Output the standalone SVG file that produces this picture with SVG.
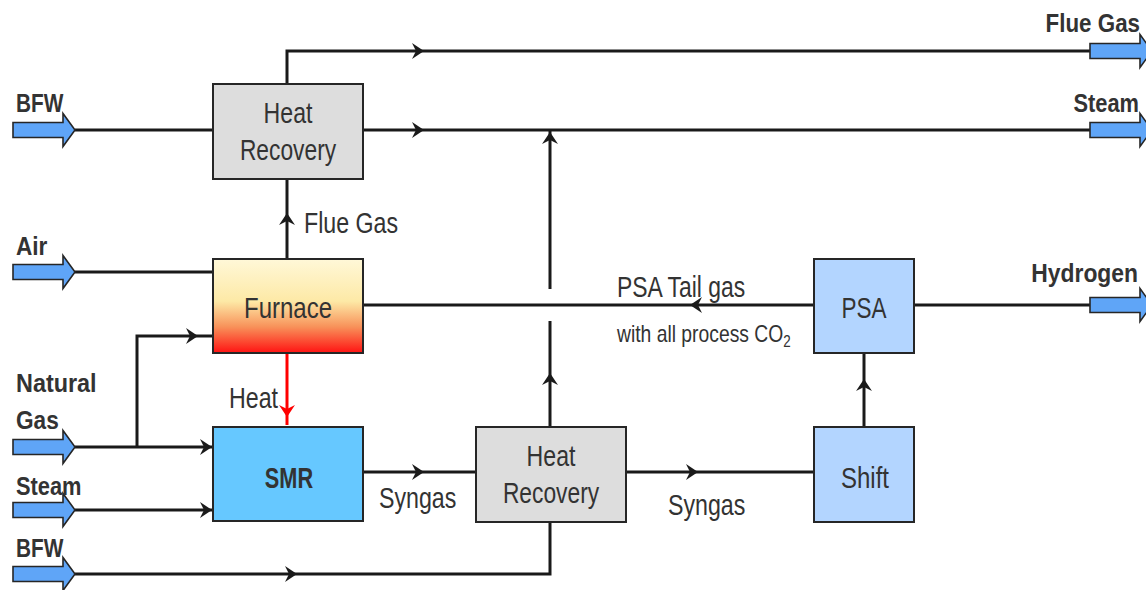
<svg xmlns="http://www.w3.org/2000/svg" xmlns:xlink="http://www.w3.org/1999/xlink" width="1146" height="590" viewBox="0 0 1146 590">
<style>
.ln{fill:none;stroke:#1a1a1a;stroke-width:3;stroke-linejoin:miter}
.box{stroke:#262626;stroke-width:2}
.blk{fill:#5fa5f7;stroke:#262626;stroke-width:1.6}
.lb{font-family:"Liberation Sans",Arial,sans-serif;font-weight:bold;font-size:26px;fill:#333}
.rg{font-family:"Liberation Sans",Arial,sans-serif;font-size:29px;fill:#333}
.sm{font-family:"Liberation Sans",Arial,sans-serif;font-size:23px;fill:#333}
.nd{font-family:"Liberation Sans",Arial,sans-serif;font-size:30px;fill:#333;text-anchor:middle}
.ndb{font-family:"Liberation Sans",Arial,sans-serif;font-size:29px;font-weight:bold;fill:#333;text-anchor:middle}
</style>
<defs>
<path id="ah" d="M0,0 L-12,-8 L-8,0 L-12,8 Z" fill="#1a1a1a"/>
<path id="ahr" d="M0,0 L-12,-8 L-8,0 L-12,8 Z" fill="#ff0000"/>
<path id="bin" d="M0,-7.5 L50,-7.5 L50,-16.5 L62,0 L50,16.5 L50,7.5 L0,7.5 Z"/>
<linearGradient id="fg" x1="0" y1="0" x2="0" y2="1">
<stop offset="0" stop-color="#fff8d8"/>
<stop offset="0.45" stop-color="#fde9a6"/>
<stop offset="0.72" stop-color="#f8925a"/>
<stop offset="1" stop-color="#ff1212"/>
</linearGradient>
</defs>

<g id="connectors">
<path class="ln" d="M287,84 V51 H1092"/>
<path class="ln" d="M75,130 H213"/>
<path class="ln" d="M363,130 H1092"/>
<path class="ln" d="M550,130 V289 M550,321 V427"/>
<path class="ln" d="M287,259 V179"/>
<path class="ln" d="M75,272 H213"/>
<path class="ln" d="M363,305 H814"/>
<path class="ln" d="M914,305 H1092"/>
<path class="ln" d="M75,447 H213 M137,447 V336 H213"/>
<path class="ln" d="M75,510 H213"/>
<path class="ln" d="M75,574 H550 V521"/>
<path class="ln" d="M363,472 H476"/>
<path class="ln" d="M626,472 H814"/>
<path class="ln" d="M864,427 V353"/>
<path d="M287,353 V425" fill="none" stroke="#ff0000" stroke-width="3"/>
<use xlink:href="#ah" transform="translate(424,51)"/>
<use xlink:href="#ah" transform="translate(424,130)"/>
<use xlink:href="#ah" transform="translate(550,132) rotate(-90)"/>
<use xlink:href="#ah" transform="translate(550,373) rotate(-90)"/>
<use xlink:href="#ah" transform="translate(287,213) rotate(-90)"/>
<use xlink:href="#ah" transform="translate(690,305) rotate(180)"/>
<use xlink:href="#ah" transform="translate(198,336)"/>
<use xlink:href="#ah" transform="translate(212,447)"/>
<use xlink:href="#ah" transform="translate(212,510)"/>
<use xlink:href="#ah" transform="translate(297,574)"/>
<use xlink:href="#ah" transform="translate(424,472)"/>
<use xlink:href="#ah" transform="translate(698,472)"/>
<use xlink:href="#ah" transform="translate(864,379) rotate(-90)"/>
<use xlink:href="#ahr" transform="translate(287,417) rotate(90)"/>
</g>

<g id="inputs">
<use xlink:href="#bin" class="blk" transform="translate(13,130)"/>
<use xlink:href="#bin" class="blk" transform="translate(13,272)"/>
<use xlink:href="#bin" class="blk" transform="translate(13,447)"/>
<use xlink:href="#bin" class="blk" transform="translate(13,510)"/>
<use xlink:href="#bin" class="blk" transform="translate(13,574)"/>
<text class="lb" transform="translate(16,112) scale(0.8,1)">BFW</text>
<text class="lb" transform="translate(16,255) scale(0.87,1)">Air</text>
<text class="lb" transform="translate(16,392) scale(0.9,1)">Natural</text>
<text class="lb" transform="translate(16,429) scale(0.87,1)">Gas</text>
<text class="lb" transform="translate(16,495) scale(0.84,1)">Steam</text>
<text class="lb" transform="translate(16,557) scale(0.8,1)">BFW</text>
</g>

<g id="outputs">
<use xlink:href="#bin" class="blk" transform="translate(1090,51)"/>
<use xlink:href="#bin" class="blk" transform="translate(1090,130)"/>
<use xlink:href="#bin" class="blk" transform="translate(1090,305)"/>
<text class="lb" text-anchor="end" transform="translate(1140,32) scale(0.86,1)">Flue Gas</text>
<text class="lb" text-anchor="end" transform="translate(1139,112) scale(0.84,1)">Steam</text>
<text class="lb" text-anchor="end" transform="translate(1138,282) scale(0.88,1)">Hydrogen</text>
</g>

<g id="hr1">
<rect class="box" x="213" y="84" width="150" height="95" fill="#dddddd"/>
<text class="nd" transform="translate(288,123) scale(0.77,1)">Heat</text>
<text class="nd" transform="translate(288,160) scale(0.76,1)">Recovery</text>
</g>

<g id="furnace">
<rect class="box" x="213" y="259" width="150" height="94" fill="url(#fg)"/>
<text class="nd" transform="translate(288,318) scale(0.8,1)">Furnace</text>
</g>

<g id="smr">
<rect class="box" x="213" y="427" width="150" height="94" fill="#66c8ff"/>
<text class="ndb" transform="translate(289,488) scale(0.75,1)">SMR</text>
</g>

<g id="hr2">
<rect class="box" x="476" y="427" width="150" height="95" fill="#dddddd"/>
<text class="nd" transform="translate(551,466) scale(0.77,1)">Heat</text>
<text class="nd" transform="translate(551,503) scale(0.76,1)">Recovery</text>
</g>

<g id="shift">
<rect class="box" x="814" y="427" width="100" height="95" fill="#b3d5ff"/>
<text class="nd" transform="translate(865,488) scale(0.8,1)">Shift</text>
</g>

<g id="psa">
<rect class="box" x="814" y="259" width="100" height="94" fill="#b3d5ff"/>
<text class="nd" transform="translate(864,318) scale(0.75,1)">PSA</text>
</g>

<g id="labels">
<text class="rg" transform="translate(304,233) scale(0.8,1)">Flue Gas</text>
<text class="rg" transform="translate(229,408) scale(0.8,1)">Heat</text>
<text class="rg" transform="translate(617,297) scale(0.79,1)">PSA Tail gas</text>
<text class="sm" transform="translate(617,342) scale(0.84,1)">with all process CO<tspan font-size="16" dy="5">2</tspan></text>
<text class="rg" transform="translate(379,508) scale(0.8,1)">Syngas</text>
<text class="rg" transform="translate(668,515) scale(0.8,1)">Syngas</text>
</g>
</svg>
